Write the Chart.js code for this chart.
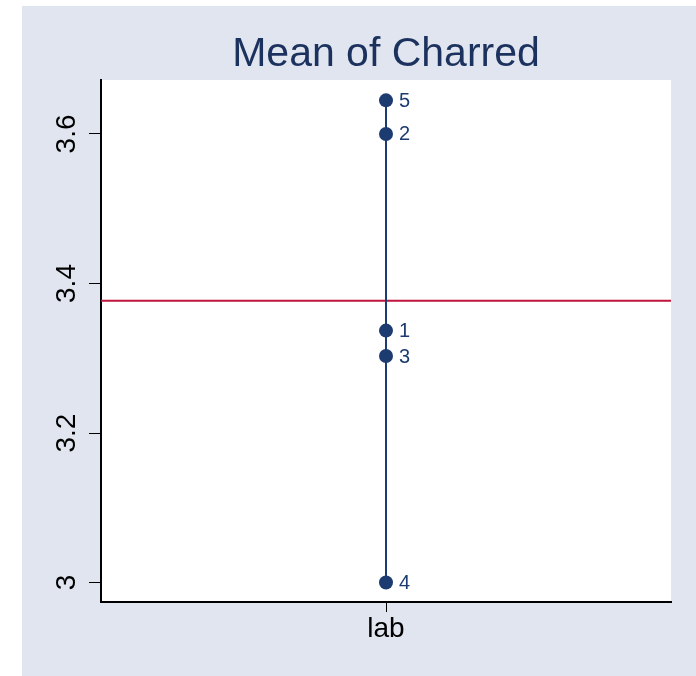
<!DOCTYPE html>
<html>
<head>
<meta charset="utf-8">
<title>Mean of Charred</title>
<script src="https://cdn.jsdelivr.net/npm/chart.js@4.4.1/dist/chart.umd.min.js"></script>
<style>
    html, body { margin: 0; padding: 0; background: #ffffff; }
    #wrap { width: 696px; height: 676px; }
</style>
</head>
<body>
<div id="wrap"><canvas id="meanChart" width="696" height="676"></canvas></div>
<script>
// Mean of Charred, one value per label, all at the "lab" position
const pointLabels = ['1', '2', '3', '4', '5'];
const charredValues = [3.337, 3.6, 3.303, 3.0, 3.645];
const meanValue = [3.377];
const yTickValues = [3, 3.2, 3.4, 3.6];
const xCategory = ['lab'];
const chartTitle = 'Mean of Charred';

const FONT = '"Liberation Sans", Arial, Helvetica, sans-serif';
const NAVY = '#1c3b70';
const BG = '#e1e5ef';

Chart.defaults.font.family = FONT;

// background box, white plot region, title, rotated y labels and point labels
const stataLook = {
    id: 'stataLook',
    beforeDraw(chart) {
        const c = chart.ctx;
        const a = chart.chartArea;
        c.save();
        c.fillStyle = BG;
        c.fillRect(22, 6, chart.width - 22, chart.height - 6);
        c.fillStyle = '#ffffff';
        c.fillRect(a.left, a.top, a.right - a.left, a.bottom - a.top);
        c.restore();
    },
    afterDraw(chart) {
        const c = chart.ctx;
        const a = chart.chartArea;
        const y = chart.scales.y;
        c.save();
        // title
        c.fillStyle = '#1c325e';
        c.font = '41px ' + FONT;
        c.textAlign = 'center';
        c.textBaseline = 'alphabetic';
        c.fillText(chartTitle, (a.left + a.right) / 2, 66);
        // y tick labels, reading upwards
        c.fillStyle = '#000000';
        c.font = '28px ' + FONT;
        yTickValues.forEach(v => {
            c.save();
            c.translate(75, y.getPixelForValue(v));
            c.rotate(-Math.PI / 2);
            c.textAlign = 'center';
            c.textBaseline = 'alphabetic';
            c.fillText(String(v), 0, 0);
            c.restore();
        });
        // point labels
        const meta = chart.getDatasetMeta(0);
        c.fillStyle = NAVY;
        c.font = '20px ' + FONT;
        c.textAlign = 'left';
        c.textBaseline = 'middle';
        meta.data.forEach((pt, i) => {
            c.fillText(pointLabels[i], pt.x + 13, pt.y + 1);
        });
        c.restore();
    }
};

new Chart(document.getElementById('meanChart'), {
    type: 'scatter',
    data: {
        datasets: [{
            label: 'Charred',
            data: charredValues.map(v => ({ x: 1, y: v })),
            showLine: true,
            borderColor: NAVY,
            borderWidth: 2,
            backgroundColor: NAVY,
            pointRadius: 7,
            pointBorderWidth: 0,
            order: 1
        }, {
            label: 'Mean',
            data: [{ x: 0, y: meanValue[0] }, { x: 2, y: meanValue[0] }],
            showLine: true,
            borderColor: '#c0143c',
            borderWidth: 2,
            pointRadius: 0,
            order: 2
        }]
    },
    options: {
        responsive: false,
        animation: false,
        layout: { padding: { left: 0, right: 25, top: 80, bottom: 0 } },
        plugins: {
            legend: { display: false },
            tooltip: { enabled: false },
            title: { display: false }
        },
        scales: {
            x: {
                type: 'linear',
                min: 0,
                max: 2,
                afterBuildTicks: scale => { scale.ticks = [{ value: 1 }]; },
                afterFit: scale => { scale.height = 74; },
                ticks: {
                    callback: () => xCategory[0],
                    color: '#000000',
                    font: { size: 28 },
                    padding: 0,
                    maxRotation: 0
                },
                grid: {
                    drawOnChartArea: false,
                    drawTicks: true,
                    tickLength: 10,
                    color: '#000000',
                    lineWidth: 1
                },
                border: { display: true, color: '#000000', width: 2 }
            },
            y: {
                min: 2.974,
                max: 3.6722,
                afterBuildTicks: scale => { scale.ticks = yTickValues.map(v => ({ value: v })); },
                afterFit: scale => { scale.width = 101; },
                ticks: { display: false },
                grid: {
                    drawOnChartArea: false,
                    drawTicks: true,
                    tickLength: 12,
                    color: '#000000',
                    lineWidth: 1
                },
                border: { display: true, color: '#000000', width: 2 }
            }
        }
    },
    plugins: [stataLook]
});
</script>
</body>
</html>
